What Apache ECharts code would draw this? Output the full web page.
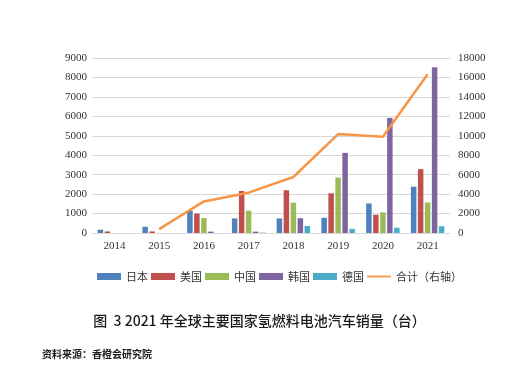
<!DOCTYPE html>
<html>
<head>
<meta charset="utf-8">
<script src="https://cdn.jsdelivr.net/npm/echarts@6/dist/echarts.min.js"></script>
<style>
html,body{margin:0;padding:0;background:#fff;}
#c{width:519px;height:383px;}
</style>
</head>
<body>
<div id="c"></div>
<script>
const categories = ['2014','2015','2016','2017','2018','2019','2020','2021'];
const japan   = [170, 320, 1150, 750, 750, 780, 1520, 2380];
const usa     = [80, 80, 1000, 2160, 2200, 2040, 940, 3280];
const china   = [0, 0, 770, 1150, 1560, 2850, 1060, 1570];
const korea   = [0, 0, 70, 70, 760, 4120, 5920, 8530];
const germany = [0, 0, 0, 20, 360, 210, 270, 350];
const total   = [null, 400, 3250, 4150, 5760, 10180, 9900, 16330];
const leftTicks = [0, 9000, 1000];
const rightTicks = [0, 18000, 2000];
const names = ['日本','美国','中国','韩国','德国','合计（右轴）'];
const colors = ['#4F81BD','#C0504D','#9BBB59','#8064A2','#4BACC6','#F79646'];

const chart = echarts.init(document.getElementById('c'));
const serif = '"Liberation Serif","DejaVu Serif",serif';
const cjk = '"Noto Sans CJK SC","Noto Sans",sans-serif';
const barSeries = [japan, usa, china, korea, germany].map((d, i) => ({
  name: names[i], type: 'bar', data: d, yAxisIndex: 0,
  barWidth: 5.5, barGap: '27%',
  itemStyle: { color: colors[i] }
}));
chart.setOption({
  animation: false,
  color: colors,
  grid: { left: 92, right: 69, top: 58, bottom: 150, containLabel: false },
  legend: {
    left: 92, top: 266,
    itemWidth: 24, itemHeight: 7, itemGap: 3,
    textStyle: { fontFamily: cjk, fontSize: 11, color: '#333' },
    data: names.map((n, i) => i < 5 ? { name: n, icon: 'rect' } :
      { name: n, icon: 'path://M0,0 M0,7 M0,2.6 L24,2.6 L24,4.4 L0,4.4 Z', itemStyle: { color: colors[5] } })
  },
  title: [
    { text: '图  3 2021 年全球主要国家氢燃料电池汽车销量（台）', left: 'center', top: 309,
      textStyle: { fontFamily: cjk, fontSize: 14, fontWeight: 500, color: '#1a1a1a' } },
    { text: '资料来源：香橙会研究院', left: 37, top: 344,
      textStyle: { fontFamily: cjk, fontSize: 10, fontWeight: 'bold', color: '#1a1a1a' } }
  ],
  xAxis: {
    type: 'category', data: categories,
    axisLine: { lineStyle: { color: '#d9d9d9' } },
    axisTick: { show: false },
    axisLabel: { fontFamily: serif, fontSize: 11, color: '#333', margin: 8 }
  },
  yAxis: [
    { type: 'value', min: leftTicks[0], max: leftTicks[1], interval: leftTicks[2],
      axisLine: { show: false }, axisTick: { show: false },
      splitLine: { lineStyle: { color: '#d9d9d9' } },
      axisLabel: { fontFamily: serif, fontSize: 11, color: '#333', margin: 5,
        formatter: v => String(v) } },
    { type: 'value', min: rightTicks[0], max: rightTicks[1], interval: rightTicks[2],
      axisLine: { show: false }, axisTick: { show: false },
      splitLine: { show: false },
      axisLabel: { fontFamily: serif, fontSize: 11, color: '#333', margin: 8,
        formatter: v => String(v) } }
  ],
  series: barSeries.concat([{
    name: names[5], type: 'line', data: total, yAxisIndex: 1,
    symbol: 'none', lineStyle: { width: 2.5, color: colors[5] },
    itemStyle: { color: colors[5] }
  }])
});
</script>
</body>
</html>
